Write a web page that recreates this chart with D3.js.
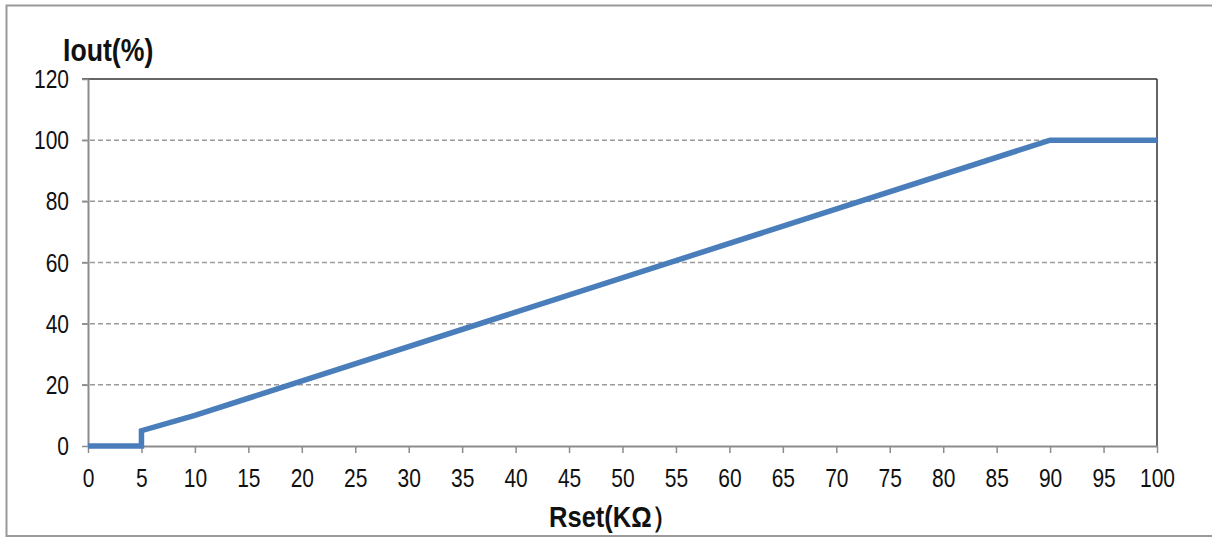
<!DOCTYPE html>
<html>
<head>
<meta charset="utf-8">
<script src="https://cdn.jsdelivr.net/npm/d3@7"></script>
<style>
html,body{margin:0;padding:0;background:#fff;}
svg{display:block;}
text{font-family:"Liberation Sans",Arial,sans-serif;fill:#111;}
</style>
</head>
<body>
<svg id="chart" width="1212" height="538"></svg>
<script>
// Data
const rsetValues = [0, 5, 5, 10, 90, 100];
const ioutValues = [0, 0, 5, 10, 100, 100];
const xTicks = [0,5,10,15,20,25,30,35,40,45,50,55,60,65,70,75,80,85,90,95,100];
const yTicks = [0,20,40,60,80,100,120];
const yTitle = "Iout(%)";
const xTitle = "Rset(KΩ）";

(function(){
const svg = d3.select("#chart");
const pLeft = 88, pRight = 1157, pTop = 79, pBottom = 446;

// outer frame
svg.append("rect").attr("x",6.5).attr("y",5.5).attr("width",1220).attr("height",530.5)
  .attr("fill","none").attr("stroke","#9a9a9a").attr("stroke-width",2);

const x = d3.scaleLinear().domain([0,100]).range([pLeft,pRight]);
const y = d3.scaleLinear().domain([0,120]).range([pBottom,pTop]);

// gridlines
svg.append("g").selectAll("line").data(yTicks.filter(v=>v>0 && v<120)).join("line")
  .attr("x1",pLeft-6).attr("x2",pRight).attr("y1",d=>y(d)).attr("y2",d=>y(d))
  .attr("stroke","#9a9a9a").attr("stroke-width",1.5).attr("stroke-dasharray","5,3");

// top and right border
svg.append("line").attr("x1",pLeft-6).attr("x2",pRight).attr("y1",y(120)).attr("y2",y(120))
  .attr("stroke","#333").attr("stroke-width",1.5);
svg.append("line").attr("x1",pRight).attr("x2",pRight).attr("y1",y(120)).attr("y2",y(0))
  .attr("stroke","#333").attr("stroke-width",1.5);

// axes
const xAxis = d3.axisBottom(x).tickValues(xTicks).tickSize(7).tickSizeOuter(0).tickFormat(d=>d);
const gx = svg.append("g").attr("transform",`translate(0,${pBottom})`).call(xAxis);
gx.select(".domain").attr("stroke","#8c8c8c").attr("stroke-width",2);
gx.selectAll(".tick line").attr("stroke","#8c8c8c").attr("stroke-width",1.5);
gx.selectAll(".tick text").attr("font-size",25).attr("fill","#111")
  .attr("font-family","'Liberation Sans',Arial,sans-serif")
  .attr("y",0).attr("dy",null)
  .attr("transform","translate(0,41) scale(0.84,1)");

const yAxis = d3.axisLeft(y).tickValues(yTicks).tickSize(6).tickSizeOuter(0).tickFormat(d=>d);
const gy = svg.append("g").attr("transform",`translate(${pLeft},0)`).call(yAxis);
gy.select(".domain").attr("stroke","#8c8c8c").attr("stroke-width",2);
gy.selectAll(".tick line").attr("stroke","#8c8c8c").attr("stroke-width",1.5);
gy.selectAll(".tick text").attr("font-size",25).attr("fill","#111")
  .attr("font-family","'Liberation Sans',Arial,sans-serif")
  .attr("x",0).attr("dy",null).attr("y",0).attr("dominant-baseline","central")
  .attr("text-anchor","end")
  .attr("transform","translate(-19,0) scale(0.84,1)");

// line
const pts = rsetValues.map((v,i)=>[v, ioutValues[i]]);
svg.append("path").datum(pts)
  .attr("d", d3.line().x(d=>x(d[0])).y(d=>y(d[1])))
  .attr("fill","none").attr("stroke","#4A7EBB").attr("stroke-width",5.5)
  .attr("stroke-linejoin","miter");

// titles
svg.append("text").text(yTitle).attr("font-weight","bold").attr("font-size",31)
  .attr("text-anchor","start")
  .attr("transform","translate(63,61) scale(0.86,1)");
svg.append("text").text(xTitle).attr("font-weight","bold").attr("font-size",29)
  .attr("text-anchor","middle")
  .attr("transform","translate(613,527) scale(0.88,1)");
})();
</script>
</body>
</html>
